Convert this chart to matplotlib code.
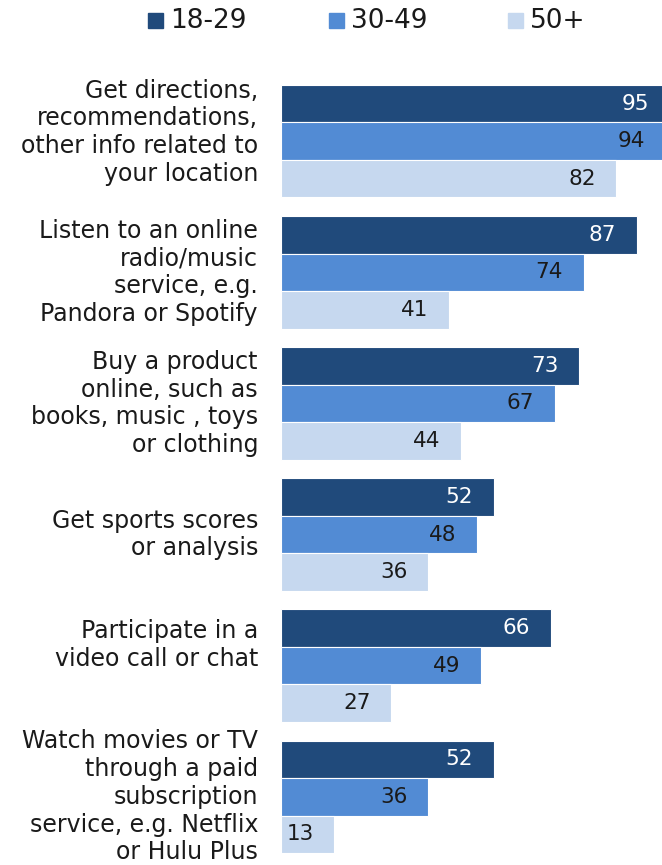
import numpy as np
import matplotlib
matplotlib.use('Agg')
import matplotlib.pyplot as plt
from matplotlib.patches import Rectangle

categories = [
    "Get directions,\nrecommendations,\nother info related to\nyour location",
    "Listen to an online\nradio/music\nservice, e.g.\nPandora or Spotify",
    "Buy a product\nonline, such as\nbooks, music , toys\nor clothing",
    "Get sports scores\nor analysis",
    "Participate in a\nvideo call or chat",
    "Watch movies or TV\nthrough a paid\nsubscription\nservice, e.g. Netflix\nor Hulu Plus",
]
age_groups = ["18-29", "30-49", "50+"]
share_18_29 = [95, 87, 73, 52, 66, 52]
share_30_49 = [94, 74, 67, 48, 49, 36]
share_50_plus = [82, 41, 44, 36, 27, 13]

colors = ["#204a7b", "#528bd4", "#c6d8ef"]
label_colors = ["white", "#1a1a1a", "#1a1a1a"]
text_color = "#1a1a1a"

W, H = 662, 865
fig = plt.figure(figsize=(W / 100, H / 100), dpi=100)
ax = fig.add_axes([281 / W, 1 - 853 / H, 381 / W, 768 / H])

series = [share_18_29, share_30_49, share_50_plus]
y = np.arange(len(categories))
h = 0.286
xmax = 93.2
px_per_group = 131.2
for k, vals in enumerate(series):
    pos = y + (k - 1) * h
    ax.barh(pos, vals, height=h, color=colors[k], edgecolor="white",
            linewidth=0.8)
    for p, v in zip(pos, vals):
        ax.text(v - 5, p, str(v), ha="right", va="center", fontsize=15.5,
                color=label_colors[k], clip_on=False)

ax.set_xlim(0, xmax)
ax.set_ylim(len(categories) - 1 + 1.5 * h, -1.5 * h)
ax.axis("off")

# vertical nudge of each category label, in pixels (negative = up)
label_shift = [-9, 0, 0, 0, -21, 0]
for i, cat in enumerate(categories):
    ax.text(-23 / (381 / xmax), i + label_shift[i] / px_per_group, cat,
            ha="right", va="center", fontsize=17, color=text_color,
            linespacing=1.2)

# legend across the top
legend_x = [148, 329, 508]
for name, col, lx in zip(age_groups, colors, legend_x):
    fig.patches.append(Rectangle((lx / W, 1 - 28 / H), 15 / W, 15 / H,
                                 transform=fig.transFigure, color=col))
    fig.text((lx + 22) / W, 1 - 21 / H, name, ha="left", va="center",
             fontsize=19, color=text_color)

fig.savefig("out.png", dpi=100)
